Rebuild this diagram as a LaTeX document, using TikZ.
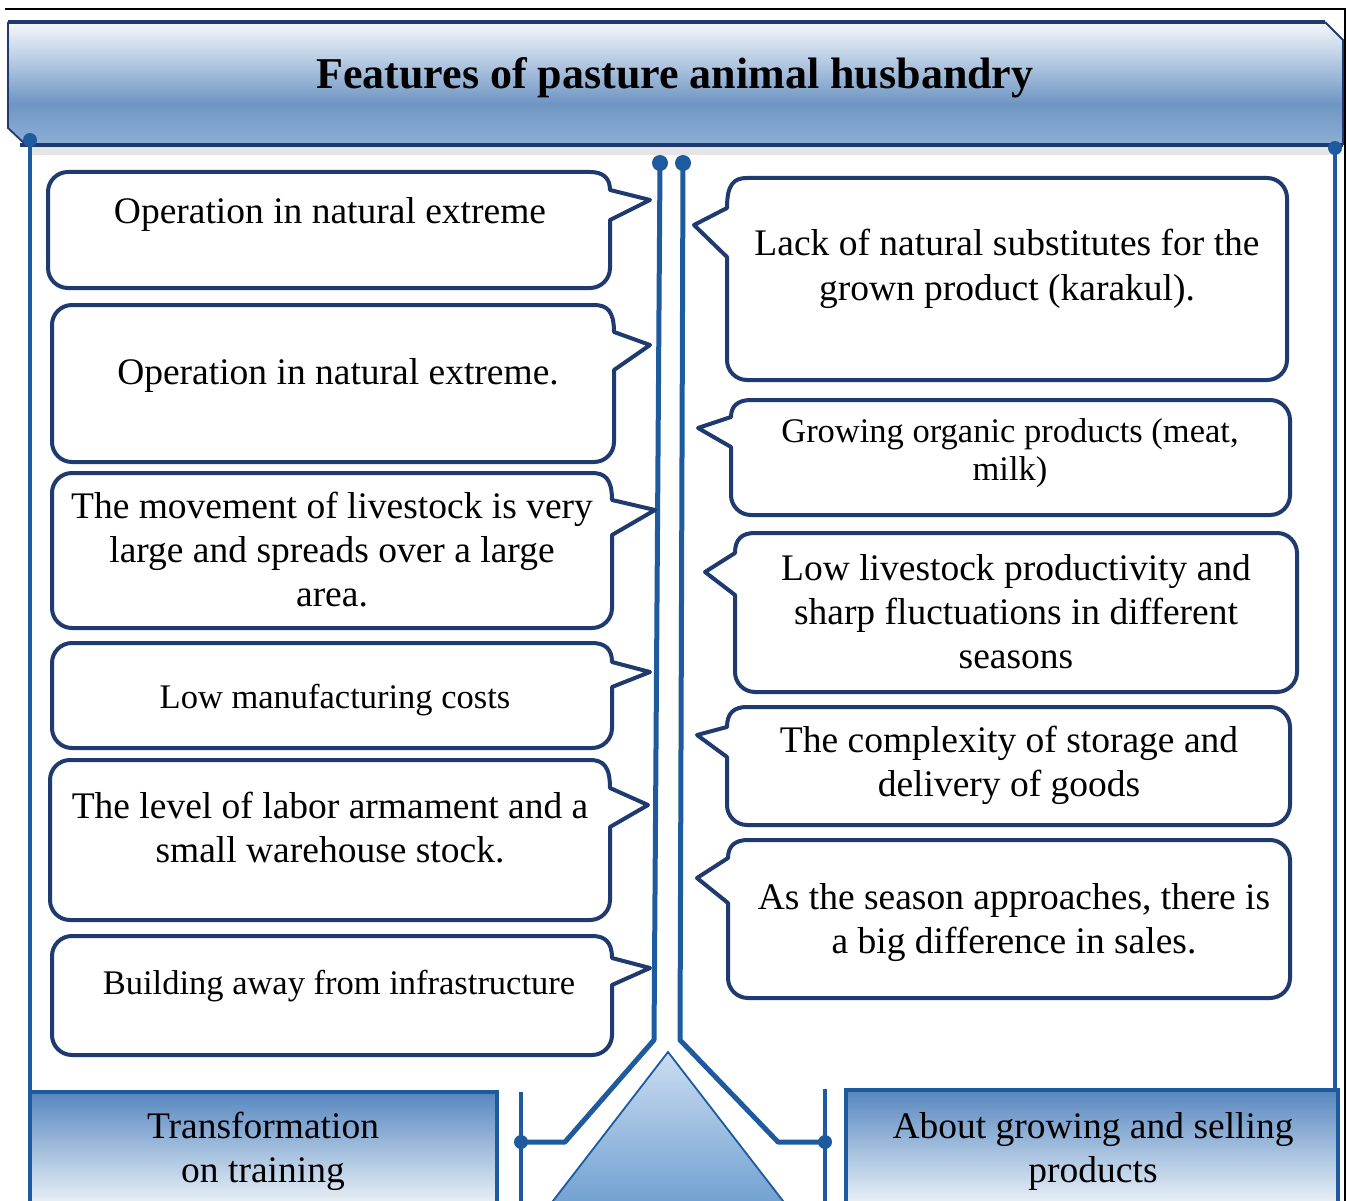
\documentclass[tikz,border=0pt]{standalone}
\usepackage{fontspec}
\setmainfont{Liberation Serif}
\definecolor{navy}{HTML}{1F3A6E}
\definecolor{lblue}{HTML}{1D5B9E}
\definecolor{hA}{HTML}{F6F9FC}
\definecolor{hB}{HTML}{A9C1DD}
\definecolor{hC}{HTML}{6F96C3}
\definecolor{hD}{HTML}{8EAFD5}
\definecolor{bA}{HTML}{F2F6FA}
\definecolor{bB}{HTML}{A5C0DE}
\definecolor{bC}{HTML}{5686BF}
\definecolor{tA}{HTML}{6E9ED0}
\definecolor{tB}{HTML}{CADDF1}
\pgfdeclareverticalshading{hdrshade}{100bp}{color(0bp)=(hD); color(25bp)=(hD); color(42bp)=(hC); color(56bp)=(hB); color(75bp)=(hA); color(100bp)=(hA)}
\pgfdeclareverticalshading{botshade}{100bp}{color(0bp)=(bA); color(25bp)=(bA); color(50bp)=(bB); color(75bp)=(bC); color(100bp)=(bC)}
\pgfdeclareverticalshading{trishade}{100bp}{color(0bp)=(tA); color(25bp)=(tA); color(75bp)=(tB); color(100bp)=(tB)}
\newcommand{\mytab}[1]{\begin{tabular}[t]{@{}c@{}}#1\end{tabular}}
% left callout: L R T B tipx tipy b1 b2
\newcommand{\cbL}[8]{%
  \draw[cbox] (#1,{#3+20}) arc[start angle=180, end angle=270, radius=20]
    -- ({#2-20},#3) .. controls ({#2-7},#3) and (#2,{#3+6}) .. (#2,#7)
    -- (#5,#6) -- (#2,#8) -- (#2,{#4-20}) arc[start angle=0, end angle=90, radius=20]
    -- ({#1+20},#4) arc[start angle=90, end angle=180, radius=20] -- cycle;}
% right callout: L R T B tipx tipy b1 b2
\newcommand{\cbR}[8]{%
  \draw[cbox] (#2,{#3+20}) arc[start angle=0, end angle=-90, radius=20]
    -- ({#1+20},#3) .. controls ({#1+7},#3) and (#1,{#3+6}) .. (#1,#7)
    -- (#5,#6) -- (#1,#8) -- (#1,{#4-20}) arc[start angle=180, end angle=90, radius=20]
    -- ({#2-20},#4) arc[start angle=90, end angle=0, radius=20] -- cycle;}
\tikzset{
  cbox/.style={draw=navy, line width=4pt, fill=white, line join=round},
  ctext/.style={anchor=base, inner sep=0pt, font=\fontsize{37.5}{44}\selectfont},
  stext/.style={anchor=base, inner sep=0pt, font=\fontsize{34.5}{38}\selectfont},
  conn/.style={draw=lblue, line width=5pt, line join=round},
  dotc/.style={fill=lblue},
}
\begin{document}
\begin{tikzpicture}[x=1pt,y=-1pt]
\clip (0,0) rectangle (1347,1201);
\fill[white] (0,0) rectangle (1347,1201);
% outer thin frame
\draw[black, line width=1.2pt] (5,9) -- (1345,9) -- (1345,1205);
% header banner
\draw[gray!20, line width=8pt] (28,151) -- (1335,151);
\shade[shading=hdrshade] (8,22) -- (1325,22) -- (1343,40) -- (1343,145) -- (26,145) -- (8,128) -- cycle;
\draw[navy, line width=1.8pt] (1325,22) -- (1343,40) -- (1343,145);
\draw[navy, line width=1.8pt] (8,22) -- (8,128) -- (26,145);
\draw[navy, line width=3.5pt] (8,22) -- (1325,22);
\draw[navy, line width=4.5pt] (20,145) -- (1343,145);
\node[anchor=base, inner sep=0pt, font=\fontsize{44}{50}\selectfont\bfseries] (title) at (675,89) {Features of pasture animal husbandry};
% side lines
\coordinate (sl1) at (30,140);
\coordinate (sl2) at (30,1094);
\coordinate (sr1) at (1335,148);
\coordinate (sr2) at (1335,1092);
\draw[conn, line width=3.5pt] (sl1) -- (sl2);
\draw[conn, line width=3.5pt] (sr1) -- (sr2);
\fill[dotc] (sl1) circle (7pt);
\fill[dotc] (sr1) circle (7pt);
% triangle
\coordinate (ta) at (668,1052);
\coordinate (tl) at (546,1210);
\coordinate (tr) at (790,1210);
\shade[shading=trishade] (ta) -- (tl) -- (tr) -- cycle;
\draw[lblue, line width=1.8pt] (tl) -- (ta) -- (tr);
% center connectors
\coordinate (ct1) at (660,163);
\coordinate (ct2) at (683,163);
\coordinate (cb1) at (654,1040);
\coordinate (cb2) at (680,1040);
\coordinate (ck1) at (565,1142);
\coordinate (ck2) at (778,1142);
\coordinate (dl) at (521,1142);
\coordinate (dr) at (825,1142);
\coordinate (vl1) at (521,1092);
\coordinate (vl2) at (521,1205);
\coordinate (vr1) at (825,1089);
\coordinate (vr2) at (825,1205);
\draw[conn] (ct1) -- (cb1) -- (ck1) -- (dl);
\draw[conn] (ct2) -- (cb2) -- (ck2) -- (dr);
\draw[conn, line width=3.5pt] (vl1) -- (vl2);
\draw[conn, line width=3.5pt] (vr1) -- (vr2);
\fill[dotc] (ct1) circle (8pt);
\fill[dotc] (ct2) circle (8pt);
\fill[dotc] (dl) circle (7pt);
\fill[dotc] (dr) circle (7pt);
% bottom boxes
\shade[shading=botshade] (30,1092) rectangle (497,1210);
\draw[lblue, line width=3.5pt] (30,1210) -- (30,1092) -- (497,1092) -- (497,1210);
\node[ctext] (tb) at (263,1138) {\mytab{Transformation\\on training}};
\shade[shading=botshade] (846,1090) rectangle (1338,1210);
\draw[lblue, line width=4pt] (846,1210) -- (846,1090) -- (1338,1090) -- (1338,1210);
\node[ctext] (ab) at (1093,1138) {\mytab{About growing and selling\\products}};
% left callouts
\cbL{48}{610}{172}{288}{650}{200}{190}{220}
\node[ctext] (l1) at (330,224) {Operation in natural extreme};
\cbL{52}{614}{305}{462}{650}{345}{332}{370}
\node[ctext] (l2) at (338,384) {Operation in natural extreme.};
\cbL{52}{612}{473}{628}{655}{510}{500}{535}
\node[ctext] (l3) at (332,518) {\mytab{The movement of livestock is very\\large and spreads over a large\\area.}};
\cbL{52}{612}{643}{748}{650}{672}{662}{687}
\node[stext] (l4) at (335,708) {Low manufacturing costs};
\cbL{50}{610}{760}{920}{648}{805}{788}{827}
\node[ctext] (l5) at (330,818) {\mytab{The level of labor armament and a\\small warehouse stock.}};
\cbL{52}{612}{936}{1055}{650}{968}{958}{985}
\node[stext] (l6) at (339,994) {Building away from infrastructure};
% right callouts
\cbR{727}{1287}{178}{380}{694}{225}{208}{257}
\node[ctext] (r1) at (1007,256) {\mytab{Lack of natural substitutes for the\\grown product (karakul).}};
\cbR{731}{1290}{400}{515}{698}{428}{417}{447}
\node[stext] (r2) at (1010,442) {\mytab{Growing organic products (meat,\\milk)}};
\cbR{735}{1297}{533}{692}{705}{572}{553}{595}
\node[ctext] (r3) at (1016,580) {\mytab{Low livestock productivity and\\sharp fluctuations in different\\seasons}};
\cbR{727}{1290}{707}{825}{697}{735}{727}{757}
\node[ctext] (r4) at (1009,752) {\mytab{The complexity of storage and\\delivery of goods}};
\cbR{728}{1290}{840}{998}{697}{878}{858}{903}
\node[ctext] (r5) at (1014,909) {\mytab{As the season approaches, there is\\a big difference in sales.}};
\end{tikzpicture}
\end{document}
